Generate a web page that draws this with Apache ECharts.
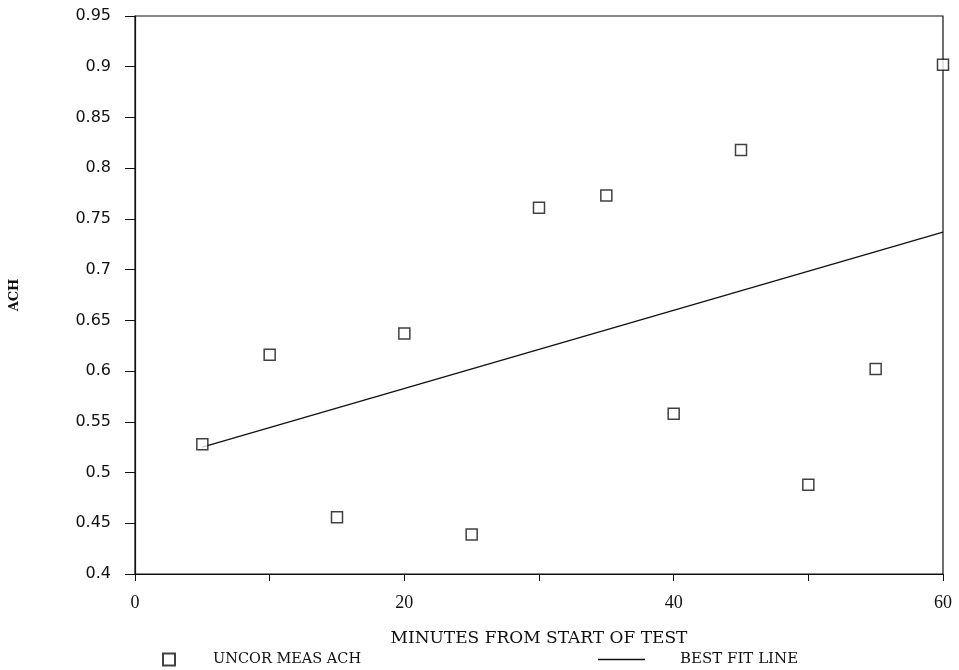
<!DOCTYPE html>
<html lang="en">
<head>
    <meta charset="UTF-8">
    <title>ACH vs minutes</title>
    <style>
        html, body { margin: 0; padding: 0; background: #fff; }
        .chart { width: 959px; height: 670px; }
    </style>
    <script src="https://cdn.jsdelivr.net/npm/echarts@6/dist/echarts.min.js"></script>
</head>
<body>
    <div class="chart"></div>
    <script>
        // measured points
        var minutes = [5, 10, 15, 20, 25, 30, 35, 40, 45, 50, 55, 60];
        var achValues = [0.528, 0.616, 0.456, 0.637, 0.439, 0.761, 0.773, 0.558, 0.818, 0.488, 0.602, 0.902];

        // best fit line end points
        var fitX = [5, 60];
        var fitY = [0.525, 0.737];

        var serif = '"DejaVu Serif", "Liberation Serif", serif';
        var sans = '"DejaVu Sans", sans-serif';

        var scatterData = minutes.map(function (m, i) { return [m, achValues[i]]; });
        var fitData = fitX.map(function (m, i) { return [m, fitY[i]]; });

        var option = {
            animation: false,
            grid: {
                left: 134, right: 16, top: 16, bottom: 96,
                show: true, borderColor: '#111', borderWidth: 1.2
            },
            legend: [
                {
                    left: 157, top: 647,
                    itemWidth: 12, itemHeight: 12,
                    data: ['UNCOR MEAS ACH'],
                    textStyle: { fontFamily: serif, fontSize: 14.5, color: '#111', padding: [0, 0, 0, 33] }
                },
                {
                    left: 593, top: 647,
                    itemWidth: 47, itemHeight: 1.5,
                    icon: 'rect',
                    data: ['BEST FIT LINE'],
                    textStyle: { fontFamily: serif, fontSize: 15, color: '#111', padding: [0, 0, 0, 30] }
                }
            ],
            xAxis: {
                type: 'value',
                min: 0, max: 60, interval: 10,
                name: 'MINUTES FROM START OF TEST',
                nameLocation: 'middle',
                nameGap: 56,
                nameTextStyle: { fontFamily: serif, fontSize: 17, color: '#111' },
                axisLine: { lineStyle: { color: '#111', width: 1.2 } },
                axisTick: { inside: false, length: 7, lineStyle: { color: '#111' } },
                axisLabel: {
                    margin: 20,
                    fontFamily: '"Liberation Serif", serif', fontSize: 18, color: '#111',
                    formatter: function (v) { return v % 20 === 0 ? String(v) : ''; }
                },
                splitLine: { show: false }
            },
            yAxis: {
                type: 'value',
                min: 0.4, max: 0.95, interval: 0.05,
                name: 'ACH',
                nameLocation: 'middle',
                nameGap: 114,
                nameTextStyle: { fontFamily: serif, fontSize: 13, fontWeight: 'bold', color: '#111' },
                axisLine: { show: true, lineStyle: { color: '#111', width: 1.2 } },
                axisTick: { show: true, length: 10, lineStyle: { color: '#111' } },
                axisLabel: {
                    margin: 24,
                    fontFamily: sans, fontSize: 16, color: '#111',
                    formatter: function (v) { return String(parseFloat(v.toFixed(2))); }
                },
                splitLine: { show: false }
            },
            series: [
                {
                    name: 'UNCOR MEAS ACH',
                    type: 'scatter',
                    symbol: 'rect',
                    symbolSize: 11,
                    itemStyle: { color: '#fff', borderColor: '#111', borderWidth: 1.5 },
                    data: scatterData,
                    z: 3
                },
                {
                    name: 'BEST FIT LINE',
                    type: 'line',
                    symbol: 'none',
                    lineStyle: { color: '#111', width: 1.4 },
                    itemStyle: { color: '#111' },
                    data: fitData,
                    z: 2
                }
            ]
        };

        var chart = echarts.init(document.querySelector('.chart'));
        chart.setOption(option);
    </script>
</body>
</html>
